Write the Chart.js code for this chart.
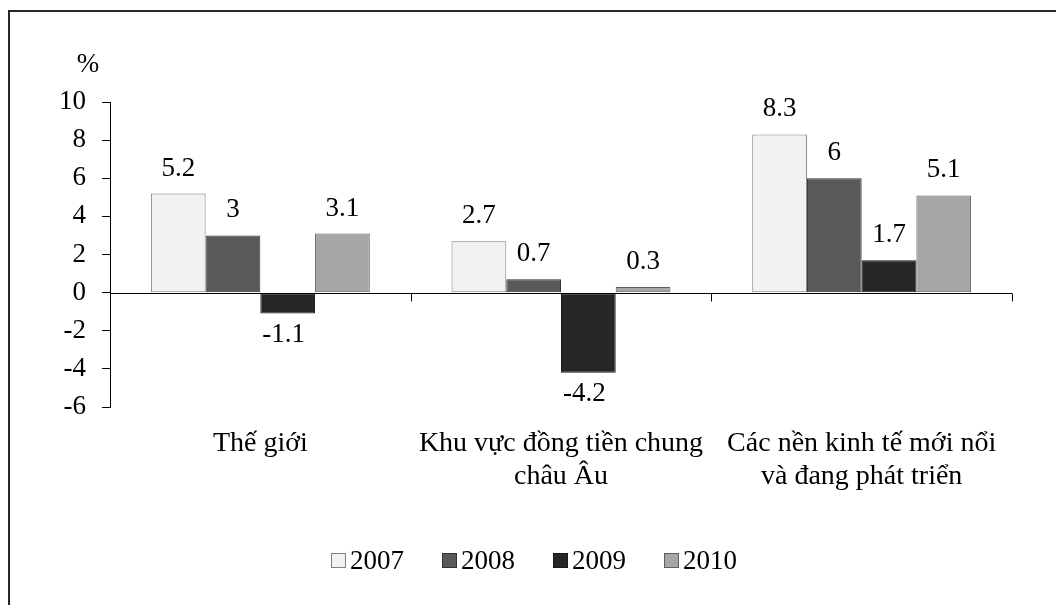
<!DOCTYPE html>
<html>
<head>
<meta charset="utf-8">
<script src="https://cdn.jsdelivr.net/npm/chart.js@4"></script>
<style>
html,body{margin:0;padding:0;background:#fff;}
canvas{display:block;}
</style>
</head>
<body>
<canvas id="c" width="1056" height="605"></canvas>
<script>
const categories = [["Thế giới"], ["Khu vực đồng tiền chung", "châu Âu"], ["Các nền kinh tế mới nổi", "và đang phát triển"]];
const seriesNames = ["2007", "2008", "2009", "2010"];
const v2007 = [5.2, 2.7, 8.3];
const v2008 = [3, 0.7, 6];
const v2009 = [-1.1, -4.2, 1.7];
const v2010 = [3.1, 0.3, 5.1];
const yTicks = [-6, -4, -2, 0, 2, 4, 6, 8, 10];
const unitLabel = "%";

const FONT = '"Liberation Serif", "Times New Roman", serif';
const FS = 27;
const fills = ["#f2f2f2", "#595959", "#262626", "#a6a6a6"];
const borders = ["#7f7f7f", "#333333", "#1a1a1a", "#5f5f5f"];
const seriesValues = [v2007, v2008, v2009, v2010];

const datasets = seriesNames.map((n, i) => ({
  label: n,
  data: seriesValues[i],
  backgroundColor: fills[i],
  borderColor: borders[i],
  borderWidth: 1,
  borderSkipped: false,
  barPercentage: 1,
  categoryPercentage: 0.728
}));

const decor = {
  id: 'decor',
  beforeDraw(chart) {
    const ctx = chart.ctx;
    ctx.save();
    ctx.fillStyle = '#fff';
    ctx.fillRect(0, 0, chart.width, chart.height);
    ctx.strokeStyle = '#262626';
    ctx.lineWidth = 2;
    ctx.strokeRect(9, 11, 2000, 2000);
    ctx.restore();
  },
  afterDatasetsDraw(chart) {
    const ctx = chart.ctx;
    const xs = chart.scales.x, ys = chart.scales.y;
    const y0 = Math.round(ys.getPixelForValue(0)) + 0.5;
    ctx.save();
    // zero line
    ctx.strokeStyle = '#000';
    ctx.lineWidth = 1;
    ctx.beginPath();
    ctx.moveTo(xs.left, y0);
    ctx.lineTo(xs.right, y0);
    ctx.stroke();
    // category boundary tick marks
    const n = chart.data.labels.length;
    for (let i = 1; i <= n; i++) {
      const x = Math.round(xs.left + i * (xs.right - xs.left) / n) + 0.5;
      ctx.beginPath();
      ctx.moveTo(x, y0);
      ctx.lineTo(x, y0 + 8);
      ctx.stroke();
    }
    // data labels
    ctx.fillStyle = '#000';
    ctx.font = FS + 'px ' + FONT;
    ctx.textAlign = 'center';
    ctx.textBaseline = 'alphabetic';
    chart.data.datasets.forEach((ds, di) => {
      const meta = chart.getDatasetMeta(di);
      meta.data.forEach((el, j) => {
        const v = ds.data[j];
        const txt = String(v);
        if (v >= 0) {
          ctx.fillText(txt, el.x, el.y - 18);
        } else {
          ctx.fillText(txt, el.x - 4, el.y + 10 + 18);
        }
      });
    });
    // unit label
    ctx.fillText(unitLabel, 88, 72);
    // legend
    ctx.textAlign = 'left';
    const box = 14, gapText = 5, gapItem = 38;
    const widths = chart.data.datasets.map(d => ctx.measureText(d.label).width);
    const total = widths.reduce((a, w) => a + box + gapText + w, 0) + gapItem * (widths.length - 1);
    let x = chart.width / 2 - total / 2 + 6;
    const yc = 560;
    chart.data.datasets.forEach((d, i) => {
      ctx.fillStyle = d.backgroundColor;
      ctx.fillRect(x + 0.5, yc - 7 + 0.5, box, box);
      ctx.strokeStyle = d.borderColor;
      ctx.lineWidth = 1;
      ctx.strokeRect(x + 0.5, yc - 7 + 0.5, box, box);
      ctx.fillStyle = '#000';
      ctx.fillText(d.label, x + box + gapText, yc + 9);
      x += box + gapText + widths[i] + gapItem;
    });
    ctx.restore();
  }
};

new Chart(document.getElementById('c'), {
  type: 'bar',
  data: { labels: categories, datasets },
  options: {
    responsive: false,
    animation: false,
    devicePixelRatio: 1,
    layout: { padding: { top: 102, right: 44, bottom: 0, left: 0 } },
    plugins: { legend: { display: false }, tooltip: { enabled: false } },
    scales: {
      x: {
        grid: { display: false, drawTicks: false },
        border: { display: false },
        ticks: {
          color: '#000',
          font: { family: FONT, size: 28, lineHeight: 1.15 },
          padding: 21,
          maxRotation: 0,
          minRotation: 0,
          autoSkip: false
        },
        afterFit(s) { s.height = 198; }
      },
      y: {
        min: -6,
        max: 10,
        afterBuildTicks(s) { s.ticks = yTicks.map(v => ({ value: v })); },
        grid: {
          drawOnChartArea: false,
          drawTicks: true,
          tickLength: 8,
          color: '#000',
          tickColor: '#000'
        },
        border: { display: true, color: '#000', width: 1 },
        ticks: {
          color: '#000',
          font: { family: FONT, size: FS },
          padding: 16
        },
        afterFit(s) { s.width = 110; }
      }
    }
  },
  plugins: [decor]
});
</script>
</body>
</html>
